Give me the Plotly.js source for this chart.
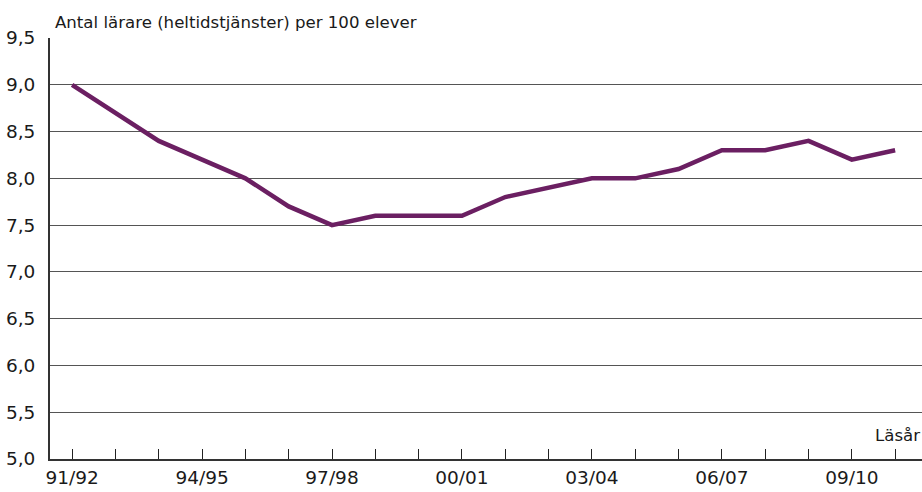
<!DOCTYPE html>
<html><head><meta charset="utf-8">
<script src="https://cdn.plot.ly/plotly-3.0.1.min.js"></script>
<style>html,body{margin:0;padding:0;background:#fff}#c{width:922px;height:492px}</style>
</head><body><div id="c"></div>
<script>
const categories = ["91/92","92/93","93/94","94/95","95/96","96/97","97/98","98/99","99/00","00/01","01/02","02/03","03/04","04/05","05/06","06/07","07/08","08/09","09/10","10/11"];
const teachersPer100 = [9.0,8.7,8.4,8.2,8.0,7.7,7.5,7.6,7.6,7.6,7.8,7.9,8.0,8.0,8.1,8.3,8.3,8.4,8.2,8.3];
const xTickLabels = ["91/92","","","94/95","","","97/98","","","00/01","","","03/04","","","06/07","","","09/10",""];
const yTicks = [5.0,5.5,6.0,6.5,7.0,7.5,8.0,8.5,9.0,9.5];

const trace = {
  x: categories, y: teachersPer100, type: 'scatter', mode: 'lines',
  line: {color: '#6b1f62', width: 4.5}, hoverinfo: 'x+y'
};
const layout = {
  width: 922, height: 492,
  margin: {l: 50, r: 0, t: 38, b: 33},
  paper_bgcolor: '#fff', plot_bgcolor: '#fff',
  separators: ',.',
  font: {family: 'DejaVu Sans, Liberation Sans, sans-serif', color: '#1a1a1a', size: 18},
  showlegend: false,
  xaxis: {
    type: 'category', range: [-0.51, 19.62],
    tickvals: categories, ticktext: xTickLabels,
    ticks: 'inside', ticklen: 10, tickwidth: 1, tickcolor: '#222',
    showline: true, linecolor: '#333', linewidth: 2,
    showgrid: false, zeroline: false,
    tickfont: {size: 18.5}, ticklabelstandoff: 1
  },
  yaxis: {
    range: [5, 9.5], tickvals: yTicks, tickformat: '.1f',
    showline: true, linecolor: '#333', linewidth: 2,
    showgrid: true, gridcolor: '#555', gridwidth: 1,
    zeroline: false, ticks: '', tickfont: {size: 18.5}, ticklabelstandoff: 9
  },
  annotations: [
    {text: 'Antal lärare (heltidstjänster) per 100 elever', xref: 'paper', yref: 'paper',
     x: 0.004, y: 1.0, xanchor: 'left', yanchor: 'bottom', yshift: 4, showarrow: false,
     font: {size: 16.6, color: '#1a1a1a'}},
    {text: 'Läsår', xref: 'paper', yref: 'paper', x: 1, y: 0.055, xanchor: 'right', yanchor: 'middle',
     showarrow: false, font: {size: 16.6, color: '#1a1a1a'}}
  ]
};
Plotly.newPlot('c', [trace], layout, {staticPlot: true, displayModeBar: false});
</script></body></html>
